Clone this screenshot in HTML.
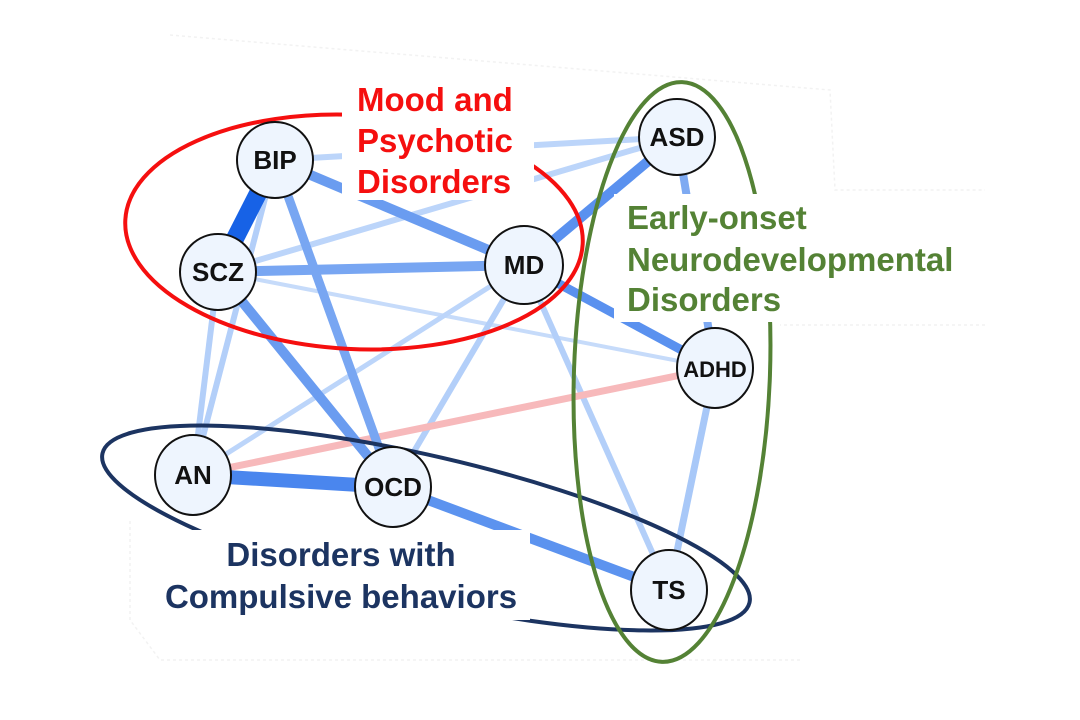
<!DOCTYPE html>
<html><head><style>
html,body{margin:0;padding:0;background:#fff;}
svg{display:block;}
text{font-family:"Liberation Sans",Arial,sans-serif;font-weight:bold;}
</style></head><body>
<svg width="1080" height="720" viewBox="0 0 1080 720">
<rect width="1080" height="720" fill="#fff"/>
<path d="M170 35 L830 90 L835 190 L985 190 M985 325 L780 325 M800 660 L160 660 L130 620 L130 520" fill="none" stroke="#f2f2f2" stroke-width="1.5" stroke-dasharray="3 3"/>
<g stroke-linecap="butt" fill="none">
<line x1="275" y1="160" x2="677" y2="137" stroke="#bcd5fa" stroke-width="6"/>
<line x1="218" y1="272" x2="677" y2="137" stroke="#bcd5fa" stroke-width="6"/>
<line x1="218" y1="272" x2="715" y2="368" stroke="#c6dbfa" stroke-width="4"/>
<line x1="275" y1="160" x2="193" y2="475" stroke="#b3cff9" stroke-width="6"/>
<line x1="218" y1="272" x2="193" y2="475" stroke="#b3cff9" stroke-width="6"/>
<line x1="524" y1="265" x2="193" y2="475" stroke="#bcd5fa" stroke-width="5"/>
<line x1="524" y1="265" x2="393" y2="487" stroke="#b3cff9" stroke-width="6"/>
<line x1="524" y1="265" x2="669" y2="590" stroke="#b3cff9" stroke-width="6"/>
<line x1="715" y1="368" x2="669" y2="590" stroke="#a8c8f8" stroke-width="7"/>
<line x1="677" y1="137" x2="715" y2="368" stroke="#7eaaf2" stroke-width="8"/>
<line x1="193" y1="475" x2="715" y2="368" stroke="#f7b9bb" stroke-width="7"/>
<line x1="275" y1="160" x2="393" y2="487" stroke="#78a6f2" stroke-width="9"/>
<line x1="218" y1="272" x2="393" y2="487" stroke="#6a9cf0" stroke-width="10"/>
<line x1="275" y1="160" x2="524" y2="265" stroke="#6a9cf0" stroke-width="10"/>
<line x1="218" y1="272" x2="524" y2="265" stroke="#78a6f2" stroke-width="10"/>
<line x1="524" y1="265" x2="677" y2="137" stroke="#5a91ef" stroke-width="10"/>
<line x1="524" y1="265" x2="715" y2="368" stroke="#5a91ef" stroke-width="9"/>
<line x1="393" y1="487" x2="669" y2="590" stroke="#5c93ef" stroke-width="10"/>
<line x1="193" y1="475" x2="393" y2="487" stroke="#4a86ee" stroke-width="14"/>
<line x1="275" y1="160" x2="218" y2="272" stroke="#1762e6" stroke-width="18"/>
</g>
<ellipse cx="354" cy="232" rx="229" ry="117" transform="rotate(3 354 232)" fill="none" stroke="#f50f0f" stroke-width="4"/>
<ellipse cx="426" cy="528" rx="332" ry="72" transform="rotate(13 426 528)" fill="none" stroke="#1c3461" stroke-width="4"/>
<ellipse cx="672" cy="372" rx="98" ry="290" transform="rotate(2 672 372)" fill="none" stroke="#548235" stroke-width="4"/>
<rect x="342" y="80" width="192" height="120" fill="#fff"/>
<rect x="614" y="194" width="370" height="128" fill="#fff"/>
<rect x="152" y="530" width="378" height="90" fill="#fff"/>
<g fill="#eef5fe" stroke="#111" stroke-width="2">
<circle cx="275" cy="160" r="38"/>
<circle cx="218" cy="272" r="38"/>
<circle cx="524" cy="265" r="39"/>
<circle cx="677" cy="137" r="38"/>
<ellipse cx="715" cy="368" rx="38" ry="40"/>
<ellipse cx="193" cy="475" rx="38" ry="40"/>
<ellipse cx="393" cy="487" rx="38" ry="40"/>
<ellipse cx="669" cy="590" rx="38" ry="40"/>
</g>
<g font-size="26" fill="#111" text-anchor="middle">
<text x="275" y="169">BIP</text>
<text x="218" y="281">SCZ</text>
<text x="524" y="274">MD</text>
<text x="677" y="146">ASD</text>
<text x="715" y="377" font-size="22">ADHD</text>
<text x="193" y="484">AN</text>
<text x="393" y="496">OCD</text>
<text x="669" y="599">TS</text>
</g>
<g font-size="33" fill="#f50f0f">
<text x="357" y="111">Mood and</text>
<text x="357" y="152">Psychotic</text>
<text x="357" y="193">Disorders</text>
</g>
<g font-size="33" fill="#548235">
<text x="627" y="229">Early-onset</text>
<text x="627" y="271">Neurodevelopmental</text>
<text x="627" y="311">Disorders</text>
</g>
<g font-size="33" fill="#1c3461" text-anchor="middle">
<text x="341" y="566">Disorders with</text>
<text x="341" y="608">Compulsive behaviors</text>
</g>
</svg>
</body></html>
